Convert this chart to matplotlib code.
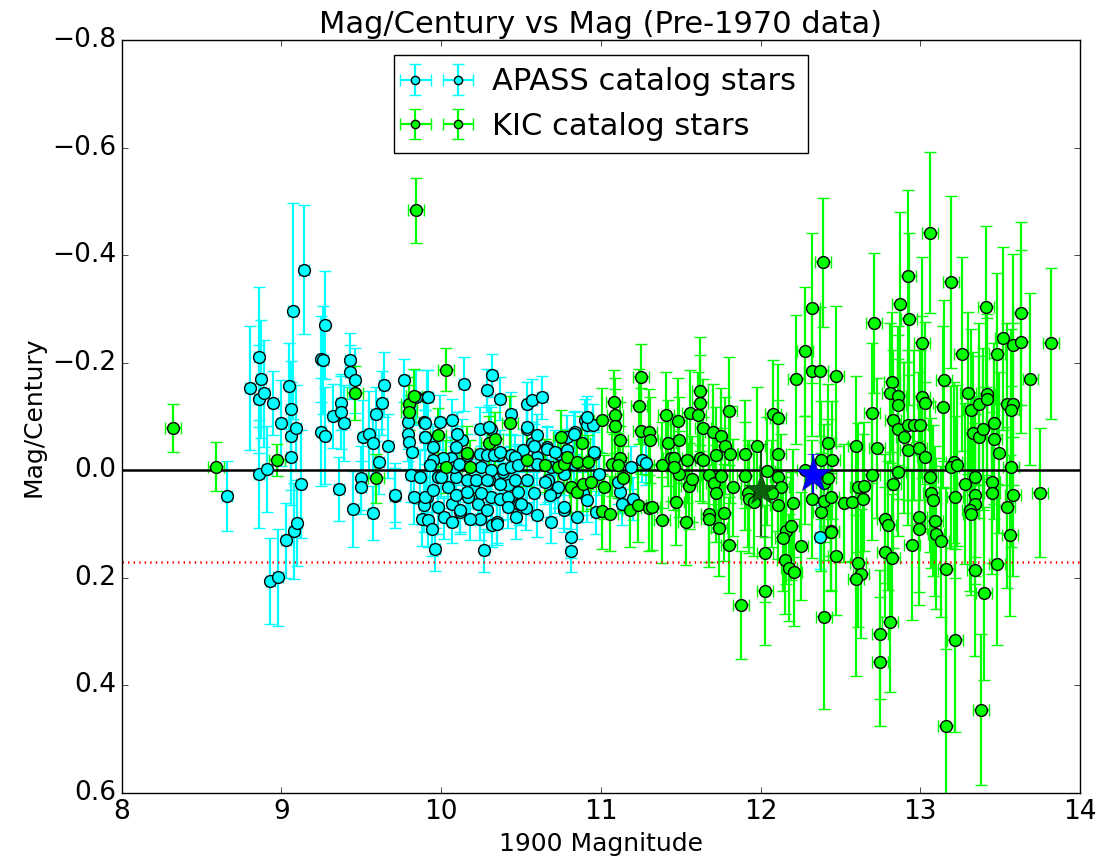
import matplotlib
matplotlib.use('Agg')
from matplotlib import pyplot as plt

# APASS katalog yildizlari (1900 parlakligi, mag/yuzyil, hata)
apass_mag = [8.66, 8.80, 8.86, 8.87, 8.86, 8.89, 8.86, 8.91, 8.95, 9.00, 8.93, 8.98, 9.03, 9.08, 9.10,
             9.12, 9.06, 9.06, 9.09, 9.06, 9.05, 9.07, 9.14, 9.27, 9.25, 9.26, 9.25, 9.27, 9.32, 9.37,
             9.37, 9.39, 9.43, 9.43, 9.46, 9.36, 9.45, 9.50, 9.50, 9.51, 9.55, 9.57, 9.59, 9.63, 9.64,
             9.61, 9.57, 9.67, 9.71, 9.77, 9.71, 9.79, 9.79, 9.80, 9.82, 9.81, 9.87, 9.83, 9.89, 9.90,
             9.91, 9.99, 10.07, 9.93, 9.98, 9.91, 9.89, 9.98, 9.88, 9.92, 9.94, 9.96, 10.02, 10.07, 10.06,
             10.09, 10.07, 10.12, 10.14, 10.10, 10.13, 10.16, 10.20, 10.17, 10.24, 10.23, 10.24, 10.27, 10.29, 10.32,
             10.31, 10.30, 10.31, 10.29, 10.32, 10.35, 10.37, 10.36, 10.39, 10.37, 10.44, 10.44, 10.42, 10.42, 10.47,
             10.49, 10.51, 10.54, 10.57, 10.54, 10.53, 10.57, 10.60, 10.63, 10.60, 10.66, 10.67, 10.69, 10.71, 10.74,
             10.77, 10.79, 10.81, 10.81, 10.84, 10.85, 10.90, 10.91, 10.95, 10.89, 10.91, 10.96, 11.13, 11.20, 11.12,
             11.19, 11.26, 11.11, 11.28, 12.37,
             9.84, 9.92, 9.90, 9.90, 10.10, 10.30, 10.54, 10.60, 10.83, 10.91, 9.95, 10.01, 9.95, 10.09, 10.24,
             10.29, 10.33, 10.37, 10.46, 10.58, 10.66, 10.71, 10.79, 10.96, 10.83, 9.93, 10.08, 10.11, 10.25, 10.31,
             10.39, 10.44, 10.48, 10.60, 10.69, 10.77, 10.99, 10.00, 10.16, 10.22, 10.29, 10.37, 10.46, 10.54, 10.65,
             10.73, 9.90, 9.95, 10.04, 10.09, 10.16, 10.25, 10.48, 10.58, 10.68, 10.12, 10.42, 10.50, 10.77, 10.18,
             10.35, 10.97]
apass_rate = [0.047, -0.153, -0.211, -0.170, -0.133, -0.143, 0.007, -0.002, -0.125, -0.088, 0.206, 0.199, 0.130, 0.113, 0.098,
              0.025, -0.025, -0.064, -0.078, -0.113, -0.157, -0.296, -0.373, -0.270, -0.207, -0.205, -0.071, -0.064, -0.101, -0.125,
              -0.109, -0.088, -0.205, -0.182, -0.167, 0.035, 0.072, 0.014, 0.032, -0.061, -0.067, -0.051, -0.105, -0.125, -0.159,
              -0.016, 0.080, -0.045, 0.047, -0.167, 0.046, -0.090, -0.068, -0.053, -0.034, 0.009, 0.012, 0.050, -0.090, -0.062,
              -0.136, -0.090, -0.093, -0.009, 0.012, 0.050, 0.065, 0.068, 0.090, 0.093, 0.110, 0.147, 0.087, 0.096, -0.022,
              0.012, 0.062, 0.078, -0.161, -0.068, -0.056, -0.028, 0.031, 0.050, -0.077, 0.062, 0.090, 0.149, -0.149, -0.177,
              -0.077, 0.019, 0.050, 0.074, 0.102, 0.096, -0.133, -0.028, 0.003, 0.053, -0.105, -0.028, 0.028, 0.050, 0.087,
              0.062, -0.037, -0.124, -0.130, -0.077, 0.071, -0.050, -0.025, -0.136, 0.084, -0.043, 0.019, 0.096, 0.040, -0.031,
              0.074, -0.062, 0.124, 0.150, -0.071, 0.087, -0.093, -0.084, -0.084, 0.043, 0.056, -0.031, 0.062, 0.053, 0.040,
              -0.006, -0.019, 0.022, -0.013, 0.124,
              -0.136, -0.136, -0.087, -0.062, -0.068, -0.081, -0.081, -0.065, -0.068, -0.099, -0.043, -0.022, -0.019, -0.043, -0.031,
              -0.028, -0.028, -0.034, -0.025, -0.046, -0.040, -0.034, -0.037, -0.034, -0.012, -0.009, -0.006, -0.012, -0.006, 0.000,
              -0.003, -0.006, -0.009, -0.012, -0.006, 0.006, 0.006, 0.012, 0.019, 0.019, 0.019, 0.025, 0.019, 0.019, 0.022,
              0.031, 0.050, 0.037, 0.031, 0.046, 0.040, 0.043, 0.040, 0.043, 0.046, 0.074, 0.068, 0.062, 0.068, 0.090,
              0.099, 0.078]
apass_rate_err = [0.065, 0.115, 0.13, 0.11, 0.10, 0.10, 0.10, 0.08, 0.06, 0.08, 0.08, 0.09, 0.07, 0.09, 0.08,
                  0.10, 0.09, 0.10, 0.08, 0.09, 0.08, 0.20, 0.12, 0.10, 0.08, 0.10, 0.10, 0.09, 0.06, 0.05,
                  0.07, 0.07, 0.05, 0.05, 0.06, 0.06, 0.07, 0.06, 0.05, 0.07, 0.08, 0.06, 0.05, 0.06, 0.06,
                  0.06, 0.05, 0.06, 0.06, 0.04, 0.05, 0.05, 0.05, 0.05, 0.05, 0.05, 0.05, 0.05, 0.05, 0.05,
                  0.05, 0.05, 0.04, 0.05, 0.05, 0.05, 0.05, 0.05, 0.05, 0.05, 0.05, 0.04, 0.04, 0.04, 0.04,
                  0.04, 0.04, 0.04, 0.05, 0.04, 0.04, 0.04, 0.04, 0.04, 0.04, 0.04, 0.04, 0.04, 0.04, 0.04,
                  0.04, 0.04, 0.04, 0.04, 0.04, 0.04, 0.04, 0.04, 0.04, 0.04, 0.04, 0.04, 0.04, 0.04, 0.04,
                  0.04, 0.04, 0.04, 0.04, 0.04, 0.04, 0.04, 0.04, 0.04, 0.04, 0.04, 0.04, 0.04, 0.04, 0.04,
                  0.04, 0.04, 0.04, 0.04, 0.04, 0.04, 0.04, 0.04, 0.04, 0.04, 0.04, 0.04, 0.04, 0.04, 0.04,
                  0.04, 0.04, 0.04, 0.04, 0.06,
                  0.05, 0.05, 0.05, 0.05, 0.04, 0.04, 0.04, 0.04, 0.04, 0.04, 0.04, 0.04, 0.04, 0.04, 0.04,
                  0.04, 0.04, 0.04, 0.04, 0.04, 0.04, 0.04, 0.04, 0.04, 0.04, 0.04, 0.04, 0.04, 0.04, 0.04,
                  0.04, 0.04, 0.04, 0.04, 0.04, 0.04, 0.04, 0.04, 0.04, 0.04, 0.04, 0.04, 0.04, 0.04, 0.04,
                  0.04, 0.04, 0.04, 0.04, 0.04, 0.04, 0.04, 0.04, 0.04, 0.04, 0.04, 0.04, 0.04, 0.04, 0.04,
                  0.04, 0.04]
apass_mag_err = 0.03

# KIC katalog yildizlari
kic_mag = [8.32, 8.59, 8.97, 9.46, 9.59, 9.84, 10.03, 9.80, 9.80, 9.83, 9.98, 10.03, 10.16, 10.18, 10.30,
           10.34, 10.43, 10.54, 10.65, 10.73, 10.75, 10.77, 10.79, 10.81, 10.85, 10.85, 10.88, 10.92, 10.89, 10.94,
           11.01, 11.02, 11.01, 11.06, 11.08, 11.09, 11.09, 11.12, 11.07, 11.12, 11.11, 11.14, 11.18, 11.23, 11.25,
           11.24, 11.25, 11.30, 11.30, 11.31, 11.38, 11.41, 11.42, 11.44, 11.46, 11.48, 11.49, 11.49, 11.46, 11.54,
           11.55, 11.57, 11.56, 11.61, 11.62, 11.62, 11.62, 11.64, 11.64, 11.70, 11.75, 11.72, 11.78, 11.81, 11.80,
           11.68, 11.71, 11.72, 11.75, 11.68, 11.68, 11.77, 11.74, 11.80, 11.83, 11.90, 11.90, 11.32, 11.47, 11.38,
           11.53, 11.88, 12.03, 12.03, 11.98, 12.04, 11.92, 11.93, 11.96, 12.08, 12.11, 12.11, 12.11, 12.13, 12.11,
           12.07, 12.20, 12.16, 12.19, 12.14, 12.25, 12.15, 12.18, 12.21, 12.28, 12.32, 12.38, 12.40, 12.40, 12.42,
           12.42, 12.45, 12.38, 12.44, 12.44, 12.44, 12.47, 12.40, 12.52, 12.57, 12.61, 12.65, 12.64, 12.70, 12.61,
           12.63, 12.60, 12.78, 12.80, 12.78, 12.82, 12.81, 12.83, 12.86, 12.28, 12.32, 12.37, 12.47, 12.22, 12.82,
           12.81, 12.86, 12.86, 12.83, 12.86, 12.70, 12.73, 12.60, 12.39, 12.32, 12.71,
           13.06, 12.92, 13.19, 12.87, 12.93, 13.41, 13.63, 13.01, 13.26, 13.48, 13.52, 13.58, 13.63, 13.82, 13.69,
           13.01, 13.03, 13.15, 13.14, 13.30, 13.32, 13.37, 13.42, 13.42, 13.54, 13.58, 13.57, 12.92, 12.96, 13.00,
           12.90, 12.92, 12.99, 13.03, 13.33, 13.37, 13.39, 13.46, 13.46, 13.49, 13.21, 13.19, 13.23, 13.57, 13.06,
           13.07, 13.08, 13.22, 13.28, 13.34, 13.34, 13.34, 13.31, 13.32, 13.45, 13.45, 13.58, 13.75, 13.54, 12.99,
           12.99, 13.09, 13.10, 13.13, 12.95, 13.56, 13.16, 13.34, 13.48, 13.40, 12.75, 12.75, 13.22, 13.38, 13.16]
kic_rate = [-0.079, -0.007, -0.019, -0.144, 0.015, -0.483, -0.187, -0.124, -0.108, -0.139, -0.065, -0.007, -0.032, -0.007, -0.050,
            -0.059, -0.088, -0.020, -0.009, -0.007, -0.062, -0.012, -0.025, 0.031, 0.040, -0.015, -0.050, -0.015, 0.025, 0.022,
            -0.093, 0.031, 0.076, 0.081, -0.127, -0.102, -0.082, -0.056, -0.012, -0.022, -0.009, 0.015, 0.073, 0.064, -0.174,
            -0.119, -0.073, -0.071, 0.071, -0.056, -0.009, -0.102, -0.050, -0.022, -0.022, -0.092, -0.056, 0.007, -0.006, -0.019,
            0.030, 0.017, -0.107, -0.102, -0.147, -0.125, -0.022, -0.019, -0.079, -0.071, -0.063, -0.028, -0.046, -0.030, -0.110,
            0.009, 0.024, 0.043, 0.011, 0.081, 0.090, 0.079, 0.107, 0.139, 0.032, -0.030, 0.011, 0.069, 0.059, 0.093,
            0.096, 0.251, 0.154, 0.224, -0.045, 0.001, 0.043, 0.053, 0.059, -0.105, -0.098, -0.030, 0.012, 0.032, 0.065,
            0.043, 0.061, 0.112, 0.104, 0.125, 0.141, 0.167, 0.181, 0.190, 0.000, 0.054, 0.077, 0.057, 0.024, 0.015,
            -0.050, -0.019, -0.019, 0.050, 0.112, 0.115, 0.159, 0.273, 0.061, 0.059, 0.032, 0.030, 0.053, 0.009, 0.172,
            0.192, 0.203, 0.090, 0.102, 0.152, 0.164, 0.282, 0.025, 0.003, -0.221, -0.184, -0.184, -0.175, -0.169, -0.164,
            -0.144, -0.139, -0.121, -0.093, -0.076, -0.107, -0.042, -0.046, -0.387, -0.302, -0.274,
            -0.442, -0.361, -0.350, -0.310, -0.282, -0.304, -0.292, -0.236, -0.216, -0.216, -0.245, -0.232, -0.239, -0.236, -0.170,
            -0.136, -0.125, -0.167, -0.118, -0.144, -0.112, -0.123, -0.141, -0.133, -0.123, -0.123, -0.112, -0.084, -0.084, -0.084,
            -0.061, -0.038, -0.042, -0.025, -0.069, -0.062, -0.077, -0.087, -0.059, -0.033, -0.015, -0.006, -0.009, -0.007, 0.012,
            0.042, 0.056, 0.050, 0.025, 0.012, 0.046, 0.062, 0.074, 0.082, 0.022, 0.042, 0.046, 0.042, 0.069, 0.086,
            0.110, 0.094, 0.118, 0.132, 0.138, 0.121, 0.183, 0.186, 0.175, 0.229, 0.305, 0.356, 0.316, 0.445, 0.476]
kic_rate_err = [0.045, 0.045, 0.03, 0.05, 0.045, 0.06, 0.04, 0.05, 0.05, 0.05, 0.05, 0.05, 0.05, 0.05, 0.05,
                0.05, 0.05, 0.05, 0.05, 0.05, 0.05, 0.05, 0.05, 0.05, 0.05, 0.05, 0.05, 0.05, 0.05, 0.05,
                0.06, 0.06, 0.07, 0.07, 0.06, 0.07, 0.07, 0.07, 0.06, 0.06, 0.06, 0.06, 0.07, 0.07, 0.06,
                0.07, 0.08, 0.08, 0.08, 0.08, 0.08, 0.08, 0.08, 0.08, 0.08, 0.08, 0.08, 0.08, 0.08, 0.08,
                0.08, 0.08, 0.08, 0.08, 0.10, 0.09, 0.08, 0.08, 0.09, 0.09, 0.09, 0.09, 0.09, 0.09, 0.10,
                0.09, 0.09, 0.09, 0.09, 0.09, 0.09, 0.09, 0.09, 0.09, 0.09, 0.10, 0.10, 0.08, 0.08, 0.08,
                0.08, 0.10, 0.09, 0.10, 0.11, 0.10, 0.10, 0.10, 0.10, 0.10, 0.10, 0.10, 0.10, 0.10, 0.10,
                0.10, 0.10, 0.10, 0.10, 0.10, 0.10, 0.10, 0.10, 0.10, 0.10, 0.11, 0.11, 0.11, 0.11, 0.11,
                0.11, 0.11, 0.11, 0.11, 0.11, 0.11, 0.11, 0.17, 0.11, 0.11, 0.12, 0.12, 0.12, 0.12, 0.12,
                0.12, 0.18, 0.12, 0.12, 0.12, 0.12, 0.13, 0.12, 0.12, 0.12, 0.12, 0.12, 0.13, 0.12, 0.13,
                0.13, 0.13, 0.13, 0.13, 0.13, 0.13, 0.13, 0.13, 0.12, 0.14, 0.13,
                0.15, 0.16, 0.16, 0.17, 0.16, 0.15, 0.17, 0.16, 0.18, 0.15, 0.17, 0.17, 0.17, 0.14, 0.16,
                0.15, 0.15, 0.15, 0.15, 0.15, 0.15, 0.15, 0.15, 0.15, 0.15, 0.15, 0.15, 0.14, 0.14, 0.14,
                0.14, 0.14, 0.14, 0.14, 0.15, 0.15, 0.15, 0.15, 0.15, 0.15, 0.15, 0.15, 0.15, 0.15, 0.14,
                0.14, 0.14, 0.15, 0.15, 0.15, 0.15, 0.15, 0.15, 0.15, 0.15, 0.15, 0.15, 0.12, 0.15, 0.14,
                0.14, 0.14, 0.14, 0.14, 0.14, 0.15, 0.15, 0.16, 0.15, 0.16, 0.12, 0.12, 0.17, 0.14, 0.30]
kic_mag_err = 0.05

# ozel yildizlar
hedef_mag, hedef_rate, hedef_mag_err, hedef_rate_err = 12.33, 0.009, 0.05, 0.04
ort_mag, ort_rate, ort_mag_err, ort_rate_err = 12.00, 0.037, 0.04, 0.085
sinir = 0.17

plt.style.use('classic')
plt.rcParams['font.size'] = 18

fig = plt.figure(figsize=(10.97, 8.63), dpi=100)
fig.subplots_adjust(left=0.111, right=0.9845, top=0.9537, bottom=0.0811)
ax = fig.add_subplot(111)

ax.errorbar(apass_mag, apass_rate, xerr=apass_mag_err, yerr=apass_rate_err, fmt='o',
            color='#00ffff', ecolor='#00ffff', mec='k', ms=8.5, mew=1.0, elinewidth=1.6,
            capsize=4, capthick=1.6, label='APASS catalog stars')
ax.errorbar(kic_mag, kic_rate, xerr=kic_mag_err, yerr=kic_rate_err, fmt='o',
            color='#00ff00', ecolor='#00ff00', mec='k', ms=8.5, mew=1.0, elinewidth=1.6,
            capsize=4, capthick=1.6, label='KIC catalog stars')

ax.axhline(0, color='k', lw=1.8)
ax.axhline(sinir, color='r', ls=':', lw=1.8)

ax.errorbar(ort_mag, ort_rate, xerr=ort_mag_err, yerr=ort_rate_err, fmt='*',
            color='#0b5e0b', ecolor='#0b5e0b', mec='#063806', ms=24, elinewidth=1.6, capsize=4)
ax.errorbar(hedef_mag, hedef_rate, xerr=hedef_mag_err, yerr=hedef_rate_err, fmt='*',
            color='#0000ff', ecolor='#0000ff', mec='#00008b', ms=26, elinewidth=1.6, capsize=4)

ax.set_xlim(8, 14)
ax.set_ylim(0.6, -0.8)
ax.tick_params(labelsize=19)
ax.set_title('Mag/Century vs Mag (Pre-1970 data)', fontsize=22)
ax.set_xlabel('1900 Magnitude', fontsize=18)
ax.set_ylabel('Mag/Century', fontsize=18)
ax.legend(loc='upper center', numpoints=2, fontsize=22, markerscale=0.7)

plt.savefig('out.png', dpi=100, facecolor='w')
